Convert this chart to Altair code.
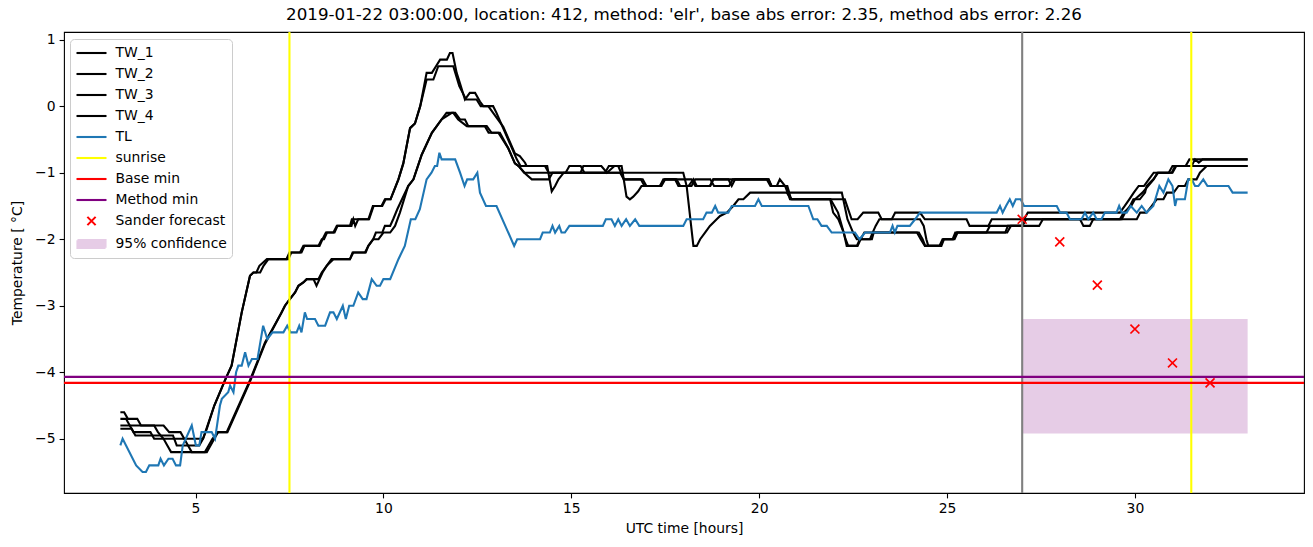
import altair as alt
import pandas as pd

TITLE = "2019-01-22 03:00:00, location: 412, method: 'elr', base abs error: 2.35, method abs error: 2.26"

TW_1 = [(3.0,-4.8),(3.25,-4.8),(3.35,-4.9),(3.8,-4.9),(3.9,-5.0),(5.2,-5.0),(5.5,-4.5),(5.8,-4.1),(5.96,-3.9),(6.23,-3.1),(6.45,-2.55),(6.54,-2.5),(6.72,-2.5),(6.81,-2.4),(6.94,-2.3),(7.47,-2.3),(7.55,-2.2),(7.78,-2.2),(7.87,-2.1),(8.3,-2.1),(8.38,-2.0),(8.47,-1.9),(8.7,-1.9),(8.78,-1.8),(9.11,-1.8),(9.16,-1.7),(9.6,-1.7),(9.72,-1.5),(9.95,-1.5),(10.04,-1.4),(10.19,-1.4),(10.4,-1.1),(10.53,-0.86),(10.71,-0.33),(10.84,-0.26),(10.98,0.0),(11.15,0.5),(11.29,0.5),(11.4,0.6),(11.51,0.7),(11.69,0.7),(11.77,0.8),(11.84,0.8),(11.95,0.5),(12.04,0.34),(12.17,0.1),(12.3,0.2),(12.44,0.2),(12.57,0.07),(12.66,0.0),(12.79,0.0),(12.92,-0.1),(13.19,-0.31),(13.5,-0.71),(13.63,-0.75),(13.77,-0.85),(13.81,-0.9),(14.36,-0.9),(14.48,-1.28),(14.57,-1.2),(14.66,-1.1),(14.8,-1.0),(15.25,-1.0),(15.32,-0.9),(15.8,-0.9),(15.95,-1.0),(16.15,-0.9),(16.34,-0.9),(16.47,-1.36),(16.56,-1.4),(16.65,-1.36),(16.78,-1.28),(16.87,-1.2),(17.36,-1.2),(17.49,-1.1),(17.76,-1.1),(17.85,-1.2),(18.12,-1.2),(18.25,-1.1),(18.34,-1.2),(18.69,-1.2),(18.78,-1.1),(19.18,-1.1),(19.27,-1.2),(19.36,-1.1),(20.25,-1.1),(20.33,-1.2),(20.47,-1.2),(20.55,-1.1),(20.69,-1.2),(20.82,-1.4),(22.28,-1.4),(22.46,-1.7),(22.62,-1.7),(22.77,-1.6),(23.17,-1.6),(23.26,-1.7),(23.53,-1.7),(23.62,-1.6),(24.28,-1.6),(24.41,-1.7),(25.52,-1.7),(25.6,-1.8),(26.1,-1.8),(26.19,-1.7),(27.05,-1.7),(27.15,-1.6),(29.6,-1.6),(29.73,-1.5),(29.85,-1.4),(29.97,-1.3),(30.1,-1.2),(30.24,-1.2),(30.37,-1.1),(30.5,-1.0),(30.9,-1.0),(31.0,-0.9),(31.35,-0.9),(31.45,-0.8),(33.0,-0.8)]

TW_2 = [(3.0,-4.85),(3.3,-4.85),(3.4,-4.95),(4.4,-4.95),(4.5,-5.1),(5.1,-5.1),(5.2,-5.0),(5.3,-4.85),(5.5,-4.5),(5.8,-4.1),(5.96,-3.9),(6.23,-3.1),(6.45,-2.55),(6.54,-2.5),(6.62,-2.5),(6.7,-2.4),(6.9,-2.3),(7.42,-2.3),(7.5,-2.2),(7.82,-2.2),(7.9,-2.1),(8.27,-2.1),(8.36,-2.0),(8.42,-2.0),(8.5,-1.9),(8.67,-1.9),(8.76,-1.8),(9.15,-1.8),(9.2,-1.7),(9.25,-1.8),(9.33,-1.7),(9.62,-1.7),(9.74,-1.5),(9.97,-1.5),(10.06,-1.4),(10.19,-1.4),(10.4,-1.1),(10.53,-0.86),(10.71,-0.33),(10.84,-0.26),(10.98,0.0),(11.15,0.4),(11.33,0.4),(11.46,0.6),(11.86,0.6),(12.02,0.3),(12.2,0.1),(12.48,0.1),(12.59,0.0),(12.92,0.0),(13.01,-0.1),(13.55,-0.8),(13.65,-0.9),(14.3,-0.9),(14.4,-1.0),(14.85,-1.0),(14.95,-0.9),(15.25,-0.9),(15.35,-1.0),(15.9,-1.0),(16.0,-0.9),(16.25,-0.9),(16.4,-1.1),(16.9,-1.1),(17.0,-1.2),(17.36,-1.2),(17.45,-1.1),(17.8,-1.1),(17.9,-1.2),(18.2,-1.2),(18.3,-1.1),(18.7,-1.1),(18.8,-1.2),(19.2,-1.2),(19.3,-1.1),(20.2,-1.1),(20.3,-1.2),(20.75,-1.2),(20.85,-1.4),(21.9,-1.4),(22.1,-1.6),(22.3,-2.0),(22.37,-2.1),(22.6,-2.1),(22.68,-2.0),(22.95,-2.0),(23.02,-1.9),(23.1,-1.8),(23.2,-1.7),(24.28,-1.7),(24.38,-1.8),(24.45,-2.0),(24.5,-2.1),(24.85,-2.1),(24.92,-2.0),(25.2,-2.0),(25.28,-1.9),(26.6,-1.9),(26.7,-1.8),(27.0,-1.8),(27.1,-1.7),(29.65,-1.7),(29.74,-1.6),(29.87,-1.5),(29.96,-1.4),(30.13,-1.4),(30.27,-1.3),(30.31,-1.2),(30.49,-1.1),(30.62,-1.0),(30.98,-1.0),(31.07,-0.9),(31.51,-0.9),(31.6,-0.8),(31.7,-0.85),(31.8,-0.8),(33.0,-0.8)]

TW_3 = [(3.0,-4.6),(3.1,-4.6),(3.2,-4.7),(3.45,-4.7),(3.55,-4.8),(4.15,-4.8),(4.3,-4.9),(4.6,-4.9),(4.7,-5.0),(4.8,-5.1),(4.9,-5.2),(5.3,-5.2),(5.4,-5.1),(5.5,-5.0),(5.6,-4.9),(5.83,-4.9),(6.45,-4.12),(6.85,-3.55),(7.29,-3.1),(7.38,-3.0),(7.51,-2.9),(7.65,-2.8),(7.74,-2.7),(7.87,-2.65),(7.96,-2.6),(8.14,-2.6),(8.22,-2.7),(8.3,-2.6),(8.38,-2.5),(8.49,-2.4),(8.62,-2.3),(9.11,-2.3),(9.18,-2.2),(9.53,-2.2),(9.6,-2.1),(9.73,-2.0),(9.8,-1.9),(9.97,-1.9),(10.04,-1.8),(10.18,-1.8),(10.26,-1.7),(10.37,-1.55),(10.66,-1.2),(10.8,-1.1),(11.02,-0.73),(11.29,-0.4),(11.42,-0.3),(11.55,-0.2),(11.68,-0.1),(11.86,-0.1),(11.99,-0.2),(12.22,-0.3),(12.75,-0.3),(12.88,-0.4),(13.06,-0.4),(13.32,-0.63),(13.5,-0.86),(13.6,-0.9),(13.75,-1.0),(17.98,-1.0),(18.07,-1.2),(18.25,-2.1),(18.34,-2.1),(18.43,-2.0),(18.56,-1.9),(18.69,-1.8),(18.87,-1.7),(18.96,-1.65),(19.14,-1.6),(19.31,-1.5),(19.45,-1.4),(19.58,-1.4),(19.76,-1.3),(20.73,-1.3),(20.87,-1.4),(21.89,-1.4),(21.97,-1.6),(22.11,-1.7),(22.25,-1.9),(22.33,-2.1),(22.62,-2.1),(22.7,-2.0),(23.0,-2.0),(23.05,-1.9),(24.2,-1.9),(24.3,-2.0),(24.41,-2.1),(24.81,-2.1),(24.9,-2.0),(25.17,-2.0),(25.26,-1.9),(26.05,-1.9),(26.14,-1.8),(27.45,-1.8),(27.55,-1.7),(28.54,-1.7),(28.63,-1.8),(28.8,-1.8),(28.89,-1.7),(30.05,-1.7),(30.14,-1.6),(30.31,-1.6),(30.45,-1.5),(30.58,-1.4),(30.76,-1.4),(30.85,-1.3),(31.03,-1.3),(31.16,-1.2),(31.33,-1.2),(31.42,-1.1),(31.64,-1.1),(31.73,-1.0),(31.91,-0.9),(33.0,-0.9)]

TW_4 = [(3.0,-4.7),(3.15,-4.7),(3.25,-4.8),(3.9,-4.8),(4.0,-4.9),(4.15,-5.0),(4.25,-5.1),(4.35,-5.2),(5.25,-5.2),(5.35,-5.1),(5.45,-5.0),(5.6,-4.9),(5.85,-4.9),(6.45,-4.14),(6.85,-3.57),(7.29,-3.1),(7.38,-3.0),(7.51,-2.9),(7.65,-2.8),(7.74,-2.7),(7.87,-2.65),(7.96,-2.6),(8.27,-2.6),(8.36,-2.5),(8.49,-2.4),(8.67,-2.3),(9.11,-2.3),(9.2,-2.2),(9.51,-2.2),(9.6,-2.1),(9.73,-2.0),(9.87,-2.0),(10.0,-1.9),(10.18,-1.9),(10.31,-1.8),(10.44,-1.6),(10.66,-1.2),(10.8,-1.1),(11.02,-0.73),(11.29,-0.4),(11.42,-0.3),(11.55,-0.2),(11.82,-0.1),(11.91,-0.1),(12.04,-0.2),(12.17,-0.2),(12.26,-0.3),(12.7,-0.3),(12.8,-0.4),(13.1,-0.4),(13.32,-0.63),(13.5,-0.86),(13.6,-0.9),(13.75,-1.0),(13.95,-1.1),(14.4,-1.1),(14.5,-1.0),(16.3,-1.0),(16.4,-1.1),(16.85,-1.1),(16.95,-1.2),(17.4,-1.2),(17.5,-1.1),(18.2,-1.1),(18.3,-1.2),(18.7,-1.2),(18.78,-1.1),(20.25,-1.1),(20.33,-1.2),(20.7,-1.2),(20.8,-1.3),(22.2,-1.3),(22.35,-1.7),(22.5,-1.9),(22.6,-2.0),(22.7,-2.0),(22.8,-1.9),(24.25,-1.9),(24.35,-2.0),(24.42,-2.1),(24.8,-2.1),(24.88,-2.0),(25.15,-2.0),(25.22,-1.9),(26.55,-1.9),(26.62,-1.8),(27.0,-1.8),(27.1,-1.7),(29.6,-1.7),(29.7,-1.6),(29.9,-1.5),(30.0,-1.4),(30.2,-1.3),(30.35,-1.2),(30.5,-1.1),(30.6,-1.0),(31.0,-1.0),(31.1,-0.9),(33.0,-0.9)]

TL = [(3.0,-5.1),(3.06,-5.0),(3.42,-5.4),(3.59,-5.5),(3.68,-5.5),(3.77,-5.4),(4.01,-5.4),(4.07,-5.3),(4.16,-5.4),(4.28,-5.3),(4.39,-5.3),(4.48,-5.4),(4.59,-5.4),(4.66,-5.1),(4.9,-4.8),(5.01,-5.1),(5.1,-5.1),(5.16,-4.9),(5.43,-4.9),(5.52,-5.0),(5.65,-4.5),(5.7,-4.4),(5.87,-4.3),(5.92,-4.2),(6.01,-4.3),(6.08,-4.0),(6.14,-3.9),(6.23,-3.9),(6.32,-3.7),(6.41,-3.9),(6.5,-3.8),(6.65,-3.8),(6.8,-3.3),(6.91,-3.5),(7.05,-3.4),(7.34,-3.4),(7.44,-3.3),(7.53,-3.4),(7.69,-3.4),(7.76,-3.3),(7.82,-3.4),(7.91,-3.1),(7.97,-3.2),(8.18,-3.2),(8.27,-3.3),(8.45,-3.3),(8.58,-3.1),(8.67,-3.1),(8.76,-3.2),(8.92,-3.0),(9.0,-3.2),(9.09,-3.0),(9.2,-3.0),(9.33,-2.8),(9.45,-2.9),(9.55,-2.9),(9.69,-2.6),(9.82,-2.7),(9.91,-2.7),(10.0,-2.6),(10.18,-2.6),(10.4,-2.3),(10.57,-2.1),(10.73,-1.7),(10.85,-1.7),(10.97,-1.55),(11.15,-1.1),(11.28,-1.0),(11.37,-0.9),(11.43,-0.9),(11.49,-0.7),(11.55,-0.8),(11.91,-0.8),(12.04,-1.0),(12.16,-1.2),(12.23,-1.1),(12.39,-1.1),(12.5,-1.0),(12.57,-1.3),(12.73,-1.5),(13.01,-1.5),(13.48,-2.1),(13.56,-2.0),(14.17,-2.0),(14.24,-1.9),(14.43,-1.9),(14.5,-1.8),(14.57,-1.9),(14.68,-1.8),(14.74,-1.9),(14.83,-1.9),(14.95,-1.8),(15.84,-1.8),(15.92,-1.7),(16.07,-1.7),(16.16,-1.8),(16.25,-1.7),(16.34,-1.8),(16.46,-1.7),(16.56,-1.8),(16.7,-1.7),(16.81,-1.8),(17.98,-1.8),(18.07,-1.7),(18.51,-1.7),(18.6,-1.6),(18.74,-1.6),(18.83,-1.5),(18.91,-1.6),(19.18,-1.6),(19.27,-1.5),(19.89,-1.5),(19.98,-1.4),(20.07,-1.5),(21.31,-1.5),(21.44,-1.7),(21.55,-1.7),(21.66,-1.8),(21.8,-1.8),(21.93,-1.9),(22.55,-1.9),(22.67,-2.0),(22.82,-1.9),(23.48,-1.9),(23.55,-1.8),(23.61,-1.9),(23.68,-1.8),(24.01,-1.8),(24.15,-1.7),(24.28,-1.6),(26.32,-1.6),(26.41,-1.5),(26.48,-1.6),(26.57,-1.5),(26.67,-1.4),(26.75,-1.5),(26.83,-1.4),(26.96,-1.4),(27.05,-1.5),(27.92,-1.5),(28.01,-1.6),(28.18,-1.6),(28.27,-1.7),(28.58,-1.7),(28.67,-1.6),(28.76,-1.7),(28.89,-1.6),(28.98,-1.7),(29.11,-1.7),(29.2,-1.6),(29.51,-1.6),(29.58,-1.5),(29.65,-1.6),(29.78,-1.6),(29.89,-1.5),(30.05,-1.6),(30.18,-1.5),(30.31,-1.6),(30.49,-1.5),(30.65,-1.2),(30.76,-1.3),(30.89,-1.1),(31.0,-1.2),(31.07,-1.5),(31.11,-1.4),(31.33,-1.4),(31.42,-1.1),(31.51,-1.1),(31.6,-1.2),(31.69,-1.2),(31.82,-1.1),(31.93,-1.2),(32.49,-1.2),(32.6,-1.3),(33.0,-1.3)]

SUNRISE = [7.5, 31.5]
NOW = [27.0]
BASE_MIN = [-4.16]
METHOD_MIN = [-4.07]
FORECAST_T = [27, 28, 29, 30, 31, 32]
FORECAST_V = [-1.70, -2.04, -2.69, -3.35, -3.86, -4.16]
CONF_T = [27.0]
CONF_T2 = [33.0]
CONF_LO = [-4.92]
CONF_HI = [-3.20]

LEGEND_LABELS = ["TW_1", "TW_2", "TW_3", "TW_4", "TL", "sunrise", "Base min",
                 "Method min", "Sander forecast", "95% confidence"]
LEGEND_COLORS = ["black", "black", "black", "black", "#1f77b4", "yellow", "red",
                 "purple", "red", "#e6cce6"]
LINE_SYM = "M-2,0H2"
X_SYM = "M-0.55,-0.55L0.55,0.55M0.55,-0.55L-0.55,0.55"
RECT_SYM = "M-1.87,-0.53H1.87V-0.35H-1.87V-0.18H1.87V0H-1.87V0.18H1.87V0.35H-1.87V0.53H1.87"
LEGEND_SHAPES = [LINE_SYM] * 8 + [X_SYM, RECT_SYM]

FONT = "DejaVu Sans"

rows = []
for name, pts in [("TW_1", TW_1), ("TW_2", TW_2), ("TW_3", TW_3), ("TW_4", TW_4), ("TL", TL)]:
    for t, v in pts:
        rows.append({"series": name, "t": t, "v": v})
lines_df = pd.DataFrame(rows)

xs = alt.Scale(domain=[1.5, 34.5], nice=False, zero=False)
ys = alt.Scale(domain=[-5.815, 1.115], nice=False, zero=False)
xaxis = alt.Axis(values=[5, 10, 15, 20, 25, 30], format="d", title="UTC time [hours]")
yaxis = alt.Axis(values=[-5, -4, -3, -2, -1, 0, 1], format="d", title="Temperature [ °C]")
X = lambda f: alt.X(f, type="quantitative", scale=xs, axis=xaxis)
Y = lambda f: alt.Y(f, type="quantitative", scale=ys, axis=yaxis)
color_scale = alt.Scale(domain=LEGEND_LABELS[:5], range=LEGEND_COLORS[:5])

conf_df = pd.DataFrame({"t": CONF_T, "t2": CONF_T2, "v": CONF_LO, "v2": CONF_HI})
conf = alt.Chart(conf_df).mark_rect(color="#e6cce6").encode(
    x=X("t"), x2="t2", y=Y("v"), y2="v2")

tw = alt.Chart(lines_df[lines_df.series != "TL"]).mark_line(strokeWidth=2.1).encode(
    x=X("t"), y=Y("v"),
    color=alt.Color("series:N", scale=color_scale, legend=None))
tl = alt.Chart(lines_df[lines_df.series == "TL"]).mark_line(strokeWidth=2.1).encode(
    x=X("t"), y=Y("v"),
    color=alt.Color("series:N", scale=color_scale, legend=None))

sun = alt.Chart(pd.DataFrame({"t": SUNRISE})).mark_rule(color="yellow", strokeWidth=2.1).encode(x=X("t"))
now = alt.Chart(pd.DataFrame({"t": NOW})).mark_rule(color="gray", strokeWidth=2.1).encode(x=X("t"))
base = alt.Chart(pd.DataFrame({"v": BASE_MIN})).mark_rule(color="red", strokeWidth=2.1).encode(y=Y("v"))
meth = alt.Chart(pd.DataFrame({"v": METHOD_MIN})).mark_rule(color="purple", strokeWidth=2.1).encode(y=Y("v"))

fc = alt.Chart(pd.DataFrame({"t": FORECAST_T, "v": FORECAST_V})).mark_point(
    shape="M-1,-1L1,1M1,-1L-1,1", size=80, filled=False, color="red", strokeWidth=1.7, opacity=1
).encode(x=X("t"), y=Y("v"))

leg = alt.Legend(title=None, orient="none", legendX=6, legendY=7, symbolSize=225,
                 symbolOffset=7.5, labelOffset=15, labelFontSize=13.9, labelFont=FONT,
                 labelColor="black", padding=5, rowPadding=5, fillColor="rgba(255,255,255,0.8)",
                 strokeColor="#cccccc", cornerRadius=4, symbolOpacity=1, symbolStrokeWidth=2.1,
                 labelLimit=300)
legend_layer = alt.Chart(pd.DataFrame({"label": LEGEND_LABELS})).mark_point(
    opacity=0, filled=False, strokeWidth=2.1
).encode(
    stroke=alt.Stroke("label:N", scale=alt.Scale(domain=LEGEND_LABELS, range=LEGEND_COLORS), legend=leg),
    shape=alt.Shape("label:N", scale=alt.Scale(domain=LEGEND_LABELS, range=LEGEND_SHAPES), legend=leg),
)

chart = alt.layer(conf, tw, tl, sun, now, base, meth, fc, legend_layer).properties(
    width=1240, height=461,
    title=alt.Title(TITLE, fontSize=16.7, font=FONT, fontWeight="normal", color="black", offset=7),
    padding={"left": 64, "top": 32, "right": 9, "bottom": 54},
    autosize=alt.AutoSizeParams(type="none"),
).configure_view(stroke="black", strokeWidth=1.1).configure_axis(
    domain=False, grid=False, tickColor="black", tickSize=4.9, tickWidth=1.1,
    labelFont=FONT, labelFontSize=13.9, labelColor="black", labelPadding=4,
    titleFont=FONT, titleFontSize=13.9, titleColor="black", titleFontWeight="normal",
).configure_axisX(titlePadding=6).configure_axisY(titlePadding=10)

chart.save("out.html", embed_options={"renderer": "svg", "actions": False})
